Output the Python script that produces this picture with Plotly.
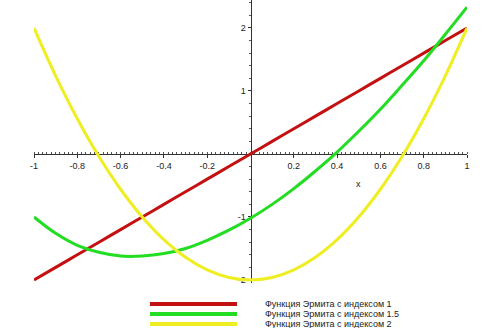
import plotly.graph_objects as go

# x positions (read at 0.1 steps)
x_vals = [-1.0, -0.9, -0.8, -0.7, -0.6, -0.5, -0.4, -0.3, -0.2, -0.1, 0.0,
          0.1, 0.2, 0.3, 0.4, 0.5, 0.6, 0.7, 0.8, 0.9, 1.0]
# Hermite function, index 1
h1 = [-2.0, -1.8, -1.6, -1.4, -1.2, -1.0, -0.8, -0.6, -0.4, -0.2, 0.0,
      0.2, 0.4, 0.6, 0.8, 1.0, 1.2, 1.4, 1.6, 1.8, 2.0]
# Hermite function, index 1.5
h15 = [-1.00, -1.26, -1.45, -1.56, -1.62, -1.62, -1.58, -1.50, -1.37, -1.21, -1.02,
       -0.80, -0.55, -0.27, 0.03, 0.36, 0.71, 1.09, 1.48, 1.90, 2.33]
# Hermite function, index 2
h2 = [2.00, 1.24, 0.56, -0.04, -0.56, -1.00, -1.36, -1.64, -1.84, -1.96, -2.00,
      -1.96, -1.84, -1.64, -1.36, -1.00, -0.56, -0.04, 0.56, 1.24, 2.00]

names = ["Функция Эрмита с индексом 1",
         "Функция Эрмита с индексом 1.5",
         "Функция Эрмита с индексом 2"]
colors = ["#C41010", "#22DD22", "#EEEE22"]

x_ticks = [-1, -0.8, -0.6, -0.4, -0.2, 0.2, 0.4, 0.6, 0.8, 1]
x_ticktext = ["-1", "-0.8", "-0.6", "-0.4", "-0.2", "0.2", "0.4", "0.6", "0.8", "1"]
y_ticks = [-2, -1, 1, 2]
y_ticktext = ["-2", "-1", "1", "2"]

y_lo, y_hi = -2.048, 2.444

fig = go.Figure()
for ys, nm, c in zip([h1, h15, h2], names, colors):
    fig.add_trace(go.Scatter(x=x_vals, y=ys, mode="lines", name=nm,
                             line=dict(color=c, width=3, shape="spline"),
                             showlegend=False))

font = dict(family="Liberation Sans, Arial, sans-serif", size=9, color="#222")

fig.update_layout(
    width=500, height=328,
    margin=dict(l=34, r=33, t=0, b=45),
    paper_bgcolor="white", plot_bgcolor="white",
    font=font,
    xaxis=dict(range=[-1, 1], tickvals=x_ticks, ticktext=x_ticktext,
               anchor="free", position=(0 - y_lo) / (y_hi - y_lo),
               showline=True, linecolor="#333", linewidth=1,
               showgrid=False, zeroline=False, ticks="outside", ticklen=3,
               tickcolor="#333", layer="below traces", tickfont=font,
               minor=dict(tickmode="linear", tick0=0, dtick=0.02, ticks="inside",
                          ticklen=2, tickcolor="#555")),
    yaxis=dict(range=[y_lo, y_hi], tickvals=y_ticks, ticktext=y_ticktext,
               anchor="free", position=0.5,
               showline=True, linecolor="#333", linewidth=1,
               showgrid=False, zeroline=False, ticks="outside", ticklen=3,
               tickcolor="#333", layer="below traces", tickfont=font,
               minor=dict(tickmode="linear", tick0=0, dtick=0.2, ticks="outside",
                          ticklen=2, tickcolor="#555")),
)

fig.add_annotation(text="x", x=0.5, y=-0.48, xref="x", yref="y",
                   showarrow=False, font=font)

# custom legend below the plot
H = 328.0
plot_h = H - 45
for i, (nm, c) in enumerate(zip(names, colors)):
    py = 304 + 10 * i
    yp = (H - 45 - py) / plot_h
    fig.add_shape(type="line", xref="paper", yref="paper",
                  x0=(150 - 34) / 433, x1=(237 - 34) / 433, y0=yp, y1=yp,
                  line=dict(color=c, width=4))
    fig.add_annotation(text=nm, xref="paper", yref="paper",
                       x=(263 - 34) / 433, y=yp, xanchor="left", yanchor="middle",
                       showarrow=False, font=font)

fig.write_html("out.html")
